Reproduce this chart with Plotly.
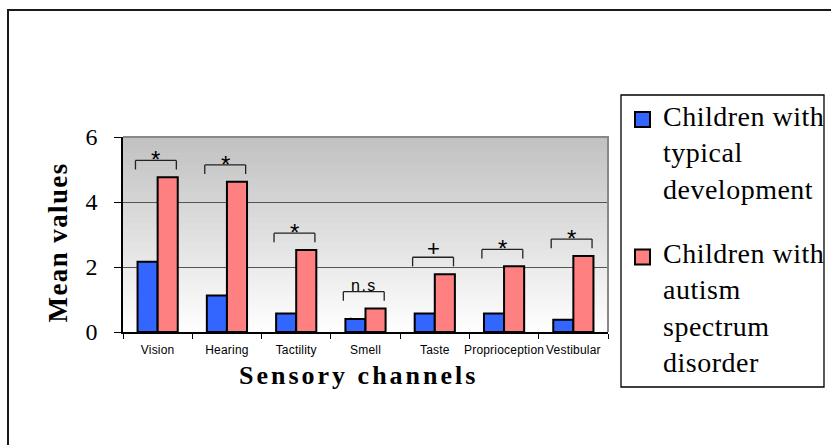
import plotly.graph_objects as go

# ---- data -------------------------------------------------------------
channels = ["Vision", "Hearing", "Tactility", "Smell", "Taste",
            "Proprioception", "Vestibular"]
typical_dev = [2.16, 1.12, 0.57, 0.40, 0.57, 0.57, 0.38]
autism_asd = [4.76, 4.62, 2.52, 0.72, 1.78, 2.02, 2.34]
significance = ["*", "*", "*", "n.s", "+", "*", "*"]
y_ticks = [0, 2, 4, 6]
legend_lines = [["Children with", "typical", "development"],
                ["Children with", "autism", "spectrum", "disorder"]]

BLUE = "#3366ff"
PINK = "#ff8080"
SERIF = "Liberation Serif"
SANS = "Liberation Sans"

W, H = 831, 445
L, R, T, B = 123, 608, 137, 332          # plot area edges in pixels


def px(x):
    return (x - L) / (R - L)


def py(y):
    return (B - y) / (B - T)


def spaced(text, sp):
    return f'<span style="letter-spacing:{sp}px">{text}</span>'


fig = go.Figure()
for vals, col in ((typical_dev, BLUE), (autism_asd, PINK)):
    fig.add_bar(x=channels, y=vals,
                marker=dict(color=col, line=dict(color="black", width=2)),
                showlegend=False)

shapes = []
# vertical grey-to-white gradient behind the bars
n_bands = 60
for k in range(n_bands):
    t = (k + 0.5) / n_bands
    g = round(192 + 63 * t)
    shapes.append(dict(type="rect", xref="paper", yref="paper",
                       x0=0, x1=1, y0=1 - (k + 1) / n_bands - 0.002,
                       y1=1 - k / n_bands,
                       fillcolor=f"rgb({g},{g},{g})", line_width=0,
                       layer="below"))
# grey frame on top and right of the plot area
shapes.append(dict(type="path", xref="paper", yref="paper",
                   path="M 0,1 L 1,1 L 1,0", line=dict(color="#888888", width=2)))
# outer chart frame
shapes.append(dict(type="rect", xref="paper", yref="paper",
                   x0=px(8), x1=px(900), y0=py(500), y1=py(10),
                   line=dict(color="#1a1a1a", width=2)))
# legend box and swatches
shapes.append(dict(type="rect", xref="paper", yref="paper",
                   x0=px(621), x1=px(824), y0=py(387), y1=py(95),
                   line=dict(color="black", width=1.3)))
for col, cy in ((BLUE, 119.5), (PINK, 257)):
    shapes.append(dict(type="rect", xref="paper", yref="paper",
                       x0=px(635), x1=px(650), y0=py(cy + 7.5), y1=py(cy - 7.5),
                       fillcolor=col, line=dict(color="black", width=2)))

annotations = []
# significance brackets above each pair of bars
for i, (v, mark) in enumerate(zip(autism_asd, significance)):
    lo, hi = v + 0.24, v + 0.52
    xl, xr = i - 0.32, i + 0.27
    for x0, y0, x1, y1 in ((xl, lo, xl, hi), (xl, hi, xr, hi), (xr, hi, xr, lo)):
        shapes.append(dict(type="line", xref="x", yref="y",
                           x0=x0, y0=y0, x1=x1, y1=y1,
                           line=dict(color="#222222", width=1.3)))
    if mark == "*":
        font, shift = dict(family=SANS, size=24, color="black"), -15
        txt = mark
    elif mark == "+":
        font, shift = dict(family=SANS, size=22, color="black"), -6
        txt = mark
    else:
        font, shift = dict(family=SANS, size=16, color="black"), -4
        txt = spaced(mark, 1.5)
        annotations.append(dict(x=i - 0.21, y=v, xref="x", yref="y",
                                text=".", showarrow=False, yanchor="middle",
                                font=dict(family=SANS, size=12, color="black"),
                                yshift=-6))
    annotations.append(dict(x=(xl + xr) / 2, y=hi, xref="x", yref="y",
                            text=txt, showarrow=False, yanchor="bottom",
                            yshift=shift, font=font))

# legend text
for lines, cy in zip(legend_lines, (153, 307.5)):
    annotations.append(dict(x=px(661), y=py(cy), xref="paper", yref="paper",
                            xanchor="left", yanchor="middle", align="left",
                            showarrow=False,
                            text="<br>".join(spaced(s, 0.5) for s in lines),
                            font=dict(family=SERIF, size=28, color="black")))

# axis titles
annotations.append(dict(x=px(57), y=py(242.5), xref="paper", yref="paper",
                        text=spaced("<b>Mean values</b>", 1.4), textangle=-90,
                        showarrow=False, xanchor="center", yanchor="middle",
                        font=dict(family=SERIF, size=27, color="black")))
annotations.append(dict(x=px(358.5), y=py(375), xref="paper", yref="paper",
                        text=spaced("<b>Sensory channels</b>", 3),
                        showarrow=False, xanchor="center", yanchor="middle",
                        font=dict(family=SERIF, size=26, color="black")))

fig.update_layout(
    width=W, height=H,
    margin=dict(l=L, r=W - R, t=T, b=H - B, pad=0),
    paper_bgcolor="white", plot_bgcolor="white",
    barmode="group", bargap=0.42, bargroupgap=0,
    showlegend=False,
    shapes=shapes, annotations=annotations,
    xaxis=dict(type="category", tickson="boundaries", ticks="outside",
               ticklen=5, tickcolor="black", tickwidth=1.3, tickangle=0,
               showline=True, linecolor="black", linewidth=1.5,
               showgrid=False, tickvals=channels,
               ticktext=[spaced(c, 0.2) for c in channels],
               tickfont=dict(family=SANS, size=12, color="black"),
               ticklabelstandoff=6, fixedrange=True),
    yaxis=dict(range=[0, 6], tickvals=y_ticks, ticks="outside", ticklen=7,
               tickcolor="black", tickwidth=1.3,
               showline=True, linecolor="black", linewidth=1.5,
               showgrid=True, gridcolor="#555555", gridwidth=1.2,
               zeroline=False,
               tickfont=dict(family=SERIF, size=24, color="black"),
               ticklabelstandoff=12, fixedrange=True),
)

fig.write_html("out.html")
